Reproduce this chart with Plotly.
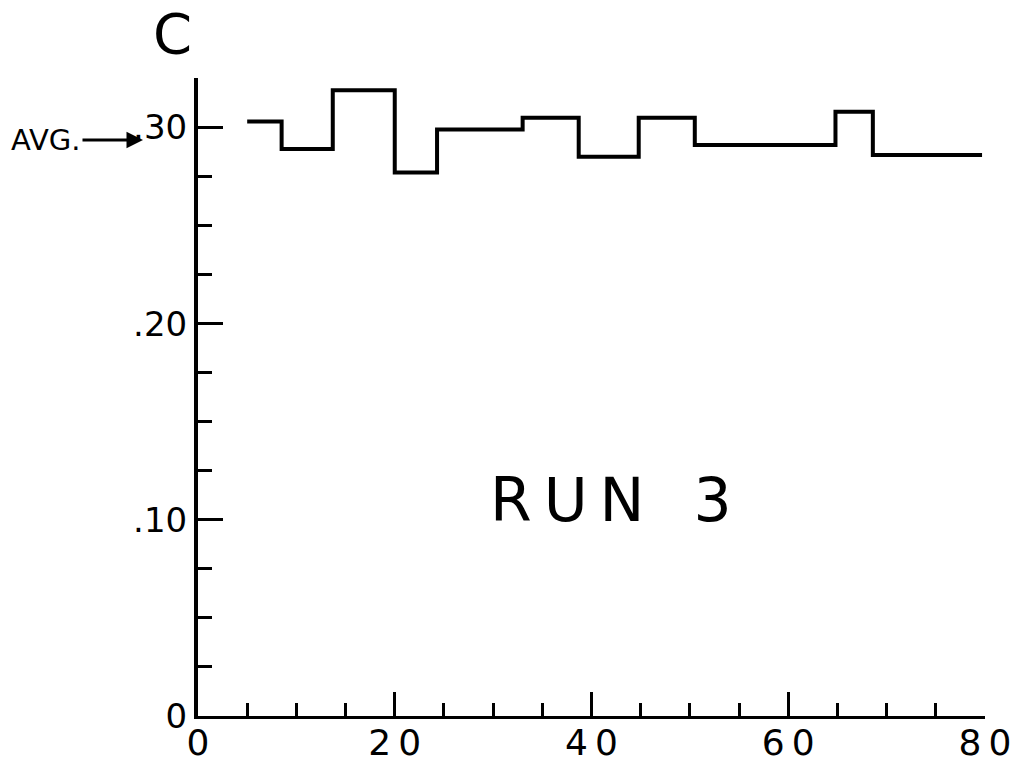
import plotly.graph_objects as go

# Step edges along the horizontal axis and the level held over each interval
edges = [5, 8.5, 13.7, 20, 24.3, 33, 38.7, 44.8, 50.5, 64.8, 68.6, 79.7]
levels = [0.303, 0.289, 0.319, 0.277, 0.299, 0.305, 0.285, 0.305, 0.291, 0.308, 0.286]

x_ticks = [0, 20, 40, 60, 80]
x_tick_text = ["0", "2\u20090", "4\u20090", "6\u20090", "8\u20090"]
y_ticks = [0, 0.10, 0.20, 0.30]
y_tick_text = ["0", ".10", ".20", ".30"]

FONT = "DejaVu Sans"

fig = go.Figure()
fig.add_trace(go.Scatter(
    x=edges,
    y=levels + [levels[-1]],
    mode="lines",
    line=dict(shape="hv", color="black", width=4),
    hoverinfo="skip",
    showlegend=False,
))

fig.update_xaxes(
    range=[0, 80], automargin=False,
    showgrid=False, zeroline=False,
    showline=True, linecolor="black", linewidth=3,
    tickmode="array", tickvals=x_ticks, ticktext=x_tick_text,
    ticks="inside", ticklen=24, tickwidth=3, tickcolor="black",
    ticklabelstandoff=-7,
    tickfont=dict(family=FONT, size=36, color="black"),
    minor=dict(tickmode="linear", tick0=0, dtick=5, ticks="inside",
               ticklen=13, tickwidth=3, tickcolor="black"),
)
fig.update_yaxes(
    range=[0, 0.3252], automargin=False,
    showgrid=False, zeroline=False,
    showline=True, linecolor="black", linewidth=4,
    tickmode="array", tickvals=y_ticks, ticktext=y_tick_text,
    ticks="inside", ticklen=25, tickwidth=3, tickcolor="black",
    tickfont=dict(family=FONT, size=34, color="black"),
    minor=dict(tickmode="linear", tick0=0, dtick=0.025, ticks="inside",
               ticklen=14, tickwidth=3, tickcolor="black"),
)

fig.add_annotation(
    text="C", xref="paper", yref="paper", x=-0.033, y=1.0705,
    showarrow=False, font=dict(family=FONT, size=56, color="black"),
    xanchor="center", yanchor="middle",
)
fig.add_annotation(
    text="AVG.", xref="paper", yref="paper", x=-0.0699, y=0.9028,
    axref="pixel", ayref="pixel", ax=-97, ay=0,
    showarrow=True, arrowhead=2, arrowsize=1.1, arrowwidth=3,
    arrowcolor="black", standoff=0,
    font=dict(family=FONT, size=29, color="black"),
)
fig.add_annotation(
    text="R\u2009U\u2009N\u2002 3", x=42, y=0.11,
    showarrow=False, font=dict(family=FONT, size=60, color="black"),
    xanchor="center", yanchor="middle",
)

fig.update_layout(
    width=1018, height=765,
    margin=dict(l=198, r=33, t=78, b=49),
    plot_bgcolor="white", paper_bgcolor="white",
    showlegend=False,
)

fig.write_html("out.html")
